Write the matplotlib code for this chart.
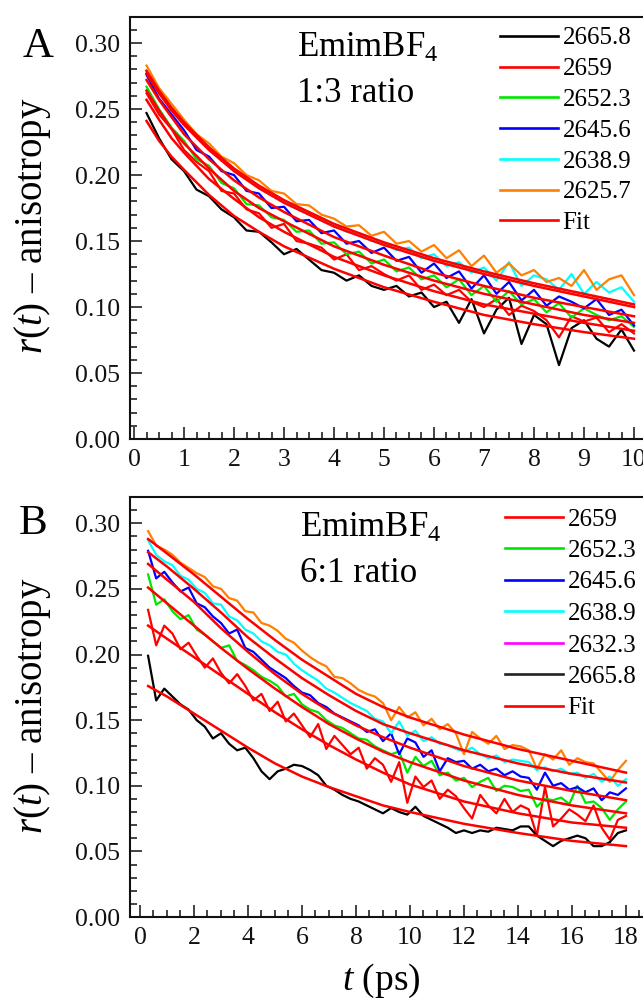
import numpy as np
import matplotlib
matplotlib.use('Agg')
import matplotlib.pyplot as plt
from matplotlib.lines import Line2D
from matplotlib.ticker import MultipleLocator

plt.rcParams['font.family'] = ['Liberation Serif', 'DejaVu Serif']
plt.rcParams['mathtext.fontset'] = 'custom'
plt.rcParams['mathtext.rm'] = 'Liberation Serif'
plt.rcParams['mathtext.it'] = 'Liberation Serif:italic'

# ---------------- panel A (1:3 ratio) ----------------
t_a = np.round(np.arange(1, 41) * 0.25, 2)
a_2665_8 = [0.247, 0.228, 0.212, 0.203, 0.189, 0.184, 0.174, 0.168, 0.158, 0.157,
            0.149, 0.140, 0.144, 0.136, 0.128, 0.126, 0.120, 0.124, 0.116, 0.113,
            0.116, 0.108, 0.111, 0.100, 0.104, 0.088, 0.106, 0.080, 0.098, 0.107,
            0.072, 0.094, 0.087, 0.056, 0.084, 0.090, 0.076, 0.070, 0.083, 0.067]
a_2659 = [0.262, 0.246, 0.235, 0.219, 0.210, 0.203, 0.188, 0.186, 0.174, 0.171,
          0.160, 0.163, 0.150, 0.148, 0.145, 0.136, 0.140, 0.128, 0.131, 0.125,
          0.120, 0.124, 0.113, 0.117, 0.109, 0.113, 0.104, 0.100, 0.106, 0.094,
          0.101, 0.097, 0.090, 0.077, 0.093, 0.089, 0.092, 0.081, 0.087, 0.080]
a_2652_3 = [0.267, 0.250, 0.236, 0.226, 0.212, 0.207, 0.194, 0.190, 0.178, 0.177,
            0.168, 0.166, 0.157, 0.158, 0.148, 0.149, 0.140, 0.142, 0.133, 0.136,
            0.127, 0.130, 0.121, 0.124, 0.115, 0.121, 0.109, 0.116, 0.104, 0.112,
            0.102, 0.106, 0.096, 0.103, 0.092, 0.099, 0.094, 0.090, 0.093, 0.085]
a_2645_6 = [0.276, 0.258, 0.246, 0.234, 0.219, 0.214, 0.203, 0.200, 0.188, 0.186,
            0.175, 0.176, 0.165, 0.166, 0.156, 0.158, 0.148, 0.150, 0.141, 0.145,
            0.135, 0.138, 0.126, 0.133, 0.122, 0.127, 0.114, 0.124, 0.110, 0.119,
            0.105, 0.113, 0.101, 0.108, 0.104, 0.099, 0.106, 0.094, 0.098, 0.086]
a_2638_9 = [0.279, 0.264, 0.251, 0.240, 0.229, 0.221, 0.212, 0.204, 0.198, 0.190,
            0.186, 0.180, 0.175, 0.171, 0.166, 0.163, 0.157, 0.156, 0.150, 0.149,
            0.143, 0.145, 0.137, 0.140, 0.131, 0.134, 0.126, 0.130, 0.120, 0.134,
            0.116, 0.124, 0.121, 0.113, 0.125, 0.110, 0.119, 0.111, 0.115, 0.104]
a_2625_7 = [0.283, 0.266, 0.254, 0.242, 0.231, 0.224, 0.214, 0.209, 0.200, 0.196,
            0.188, 0.186, 0.178, 0.177, 0.170, 0.167, 0.161, 0.162, 0.154, 0.157,
            0.148, 0.150, 0.142, 0.147, 0.137, 0.143, 0.131, 0.139, 0.126, 0.133,
            0.124, 0.128, 0.119, 0.122, 0.116, 0.128, 0.113, 0.121, 0.124, 0.109]

tfit_a = [0.25, 0.5, 0.75, 1, 1.5, 2, 2.5, 3, 4, 5, 6, 7, 8, 9, 10]
fits_a = [
    [0.279, 0.264, 0.251, 0.240, 0.221, 0.205, 0.192, 0.181, 0.163, 0.149, 0.137, 0.127, 0.118, 0.110, 0.102],
    [0.277, 0.262, 0.249, 0.238, 0.219, 0.203, 0.190, 0.179, 0.161, 0.147, 0.135, 0.125, 0.116, 0.108, 0.100],
    [0.272, 0.257, 0.244, 0.231, 0.212, 0.196, 0.183, 0.172, 0.153, 0.139, 0.126, 0.116, 0.107, 0.100, 0.093],
    [0.264, 0.249, 0.235, 0.224, 0.205, 0.188, 0.175, 0.165, 0.146, 0.132, 0.120, 0.110, 0.102, 0.094, 0.088],
    [0.257, 0.242, 0.228, 0.217, 0.197, 0.182, 0.168, 0.157, 0.138, 0.124, 0.112, 0.102, 0.095, 0.088, 0.082],
    [0.241, 0.226, 0.214, 0.204, 0.185, 0.169, 0.157, 0.146, 0.129, 0.115, 0.104, 0.094, 0.087, 0.081, 0.076],
]

# ---------------- panel B (6:1 ratio) ----------------
t_b = np.round(np.arange(1, 61) * 0.3, 2)
b_2659 = [0.234, 0.207, 0.222, 0.216, 0.204, 0.209, 0.199, 0.190, 0.197, 0.186,
          0.178, 0.185, 0.176, 0.165, 0.170, 0.157, 0.164, 0.149, 0.155, 0.146,
          0.137, 0.147, 0.128, 0.138, 0.131, 0.124, 0.129, 0.113, 0.121, 0.116,
          0.103, 0.118, 0.087, 0.107, 0.099, 0.104, 0.090, 0.097, 0.092, 0.083,
          0.075, 0.093, 0.085, 0.079, 0.090, 0.080, 0.085, 0.082, 0.062, 0.099,
          0.069, 0.075, 0.082, 0.078, 0.073, 0.085, 0.068, 0.059, 0.074, 0.077]
b_2652_3 = [0.261, 0.238, 0.242, 0.233, 0.227, 0.230, 0.219, 0.215, 0.210, 0.205,
            0.207, 0.195, 0.192, 0.188, 0.183, 0.180, 0.176, 0.168, 0.170, 0.162,
            0.158, 0.156, 0.150, 0.146, 0.144, 0.140, 0.136, 0.135, 0.130, 0.127,
            0.124, 0.126, 0.110, 0.122, 0.115, 0.119, 0.108, 0.110, 0.104, 0.106,
            0.099, 0.103, 0.106, 0.096, 0.100, 0.099, 0.096, 0.097, 0.084, 0.090,
            0.089, 0.091, 0.086, 0.100, 0.087, 0.088, 0.083, 0.074, 0.082, 0.088]
b_2645_6 = [0.279, 0.258, 0.263, 0.255, 0.248, 0.251, 0.239, 0.236, 0.229, 0.224,
            0.216, 0.219, 0.205, 0.202, 0.196, 0.190, 0.186, 0.182, 0.176, 0.171,
            0.169, 0.163, 0.160, 0.155, 0.152, 0.149, 0.146, 0.141, 0.143, 0.134,
            0.140, 0.124, 0.136, 0.133, 0.122, 0.127, 0.111, 0.121, 0.118, 0.119,
            0.113, 0.116, 0.111, 0.113, 0.108, 0.111, 0.107, 0.106, 0.097, 0.110,
            0.100, 0.102, 0.097, 0.099, 0.095, 0.098, 0.089, 0.095, 0.093, 0.098]
b_2638_9 = [0.287, 0.276, 0.271, 0.268, 0.260, 0.257, 0.250, 0.247, 0.239, 0.238,
            0.229, 0.226, 0.219, 0.216, 0.210, 0.207, 0.202, 0.200, 0.193, 0.188,
            0.184, 0.180, 0.174, 0.171, 0.167, 0.163, 0.160, 0.157, 0.151, 0.149,
            0.140, 0.149, 0.138, 0.142, 0.134, 0.137, 0.132, 0.131, 0.128, 0.126,
            0.129, 0.124, 0.121, 0.123, 0.118, 0.120, 0.119, 0.118, 0.112, 0.114,
            0.111, 0.113, 0.109, 0.110, 0.106, 0.109, 0.103, 0.107, 0.100, 0.105]
b_2632_3 = [0.294, 0.283, 0.280, 0.276, 0.270, 0.266, 0.262, 0.259, 0.252, 0.250,
            0.243, 0.241, 0.233, 0.232, 0.224, 0.222, 0.218, 0.212, 0.209, 0.203,
            0.198, 0.194, 0.191, 0.183, 0.182, 0.178, 0.173, 0.170, 0.168, 0.163,
            0.150, 0.160, 0.152, 0.156, 0.146, 0.151, 0.143, 0.147, 0.140, 0.124,
            0.141, 0.136, 0.132, 0.138, 0.128, 0.131, 0.130, 0.127, 0.113, 0.124,
            0.120, 0.127, 0.116, 0.121, 0.118, 0.117, 0.110, 0.103, 0.112, 0.119]
b_2665_8 = [0.199, 0.165, 0.174, 0.168, 0.162, 0.158, 0.150, 0.145, 0.136, 0.140,
            0.132, 0.127, 0.129, 0.121, 0.111, 0.105, 0.111, 0.113, 0.116, 0.115,
            0.112, 0.108, 0.100, 0.097, 0.093, 0.090, 0.088, 0.085, 0.082, 0.079,
            0.083, 0.080, 0.078, 0.084, 0.077, 0.074, 0.071, 0.068, 0.064, 0.066,
            0.064, 0.066, 0.065, 0.068, 0.067, 0.066, 0.069, 0.069, 0.062, 0.058,
            0.054, 0.058, 0.060, 0.062, 0.060, 0.054, 0.054, 0.057, 0.064, 0.066]

tfit_b = [0.3, 1, 2, 3, 4, 5, 6, 7, 8, 9, 10, 12, 14, 16, 18]
fits_b = [
    [0.288, 0.277, 0.261, 0.244, 0.227, 0.211, 0.196, 0.183, 0.170, 0.160, 0.152, 0.139, 0.128, 0.119, 0.110],
    [0.278, 0.267, 0.250, 0.232, 0.213, 0.197, 0.182, 0.169, 0.157, 0.147, 0.140, 0.127, 0.117, 0.109, 0.1025],
    [0.269, 0.257, 0.240, 0.220, 0.202, 0.185, 0.170, 0.157, 0.146, 0.137, 0.129, 0.115, 0.104, 0.096, 0.089],
    [0.251, 0.239, 0.222, 0.205, 0.189, 0.174, 0.160, 0.147, 0.136, 0.126, 0.118, 0.104, 0.093, 0.085, 0.079],
    [0.222, 0.212, 0.198, 0.184, 0.170, 0.156, 0.143, 0.131, 0.120, 0.110, 0.101, 0.088, 0.079, 0.072, 0.068],
    [0.176, 0.168, 0.155, 0.142, 0.129, 0.117, 0.107, 0.099, 0.092, 0.085, 0.080, 0.071, 0.064, 0.058, 0.054],
]

BLACK, RED, GREEN, BLUE = '#000000', '#ff0000', '#00e600', '#0000ff'
CYAN, ORANGE, MAGENTA = '#00ffff', '#ff8000', '#ff00ff'
LW = 1.6

fig = plt.figure(figsize=(6.43, 10.01), dpi=100)
W, H = 643.0, 1001.0
axA = fig.add_axes([130 / W, 1 - 439 / H, 520 / W, 422.3 / H])
axB = fig.add_axes([130 / W, 1 - 917 / H, 520 / W, 420 / H])


def style_axes(ax, xlim, xmajor, xminor):
    ax.set_xlim(*xlim)
    ax.set_ylim(0, 0.32)
    ax.xaxis.set_major_locator(MultipleLocator(xmajor))
    ax.xaxis.set_minor_locator(MultipleLocator(xminor))
    ax.yaxis.set_major_locator(MultipleLocator(0.05))
    ax.yaxis.set_minor_locator(MultipleLocator(0.01))
    ax.yaxis.set_major_formatter(plt.FormatStrFormatter('%.2f'))
    ax.tick_params(which='both', direction='in', top=False, right=False,
                   width=1.1, labelsize=18.5, colors='#111111')
    ax.tick_params(which='major', length=8.5, pad=7)
    ax.tick_params(which='minor', length=5)
    for sp in ax.spines.values():
        sp.set_linewidth(1.5)
        sp.set_color('#111111')


# panel A
series_a = [(a_2665_8, BLACK, '2665.8'), (a_2659, RED, '2659'), (a_2652_3, GREEN, '2652.3'),
            (a_2645_6, BLUE, '2645.6'), (a_2638_9, CYAN, '2638.9'), (a_2625_7, ORANGE, '2625.7')]
for vals, col, lab in series_a:
    axA.plot(t_a, vals, color=col, lw=LW)
for f in fits_a:
    axA.plot(tfit_a, f, color=RED, lw=LW + 0.2)
style_axes(axA, (-0.08, 10.32), 1, 0.25)
handles_a = [Line2D([], [], color=c, lw=LW + 0.3) for _, c, _ in series_a] + [Line2D([], [], color=RED, lw=LW + 0.3)]
labels_a = [l for _, _, l in series_a] + ['Fit']
axA.legend(handles_a, labels_a, loc='upper left', bbox_to_anchor=(500 / W, 1 - 27 / H),
           bbox_transform=fig.transFigure, frameon=False, fontsize=18, handlelength=2.3,
           handletextpad=0.2, labelspacing=0.33, borderpad=0, borderaxespad=0)

# panel B
series_b = [(b_2659, RED), (b_2652_3, GREEN), (b_2645_6, BLUE), (b_2638_9, CYAN),
            (b_2632_3, ORANGE), (b_2665_8, BLACK)]
for vals, col in series_b:
    axB.plot(t_b, vals, color=col, lw=LW)
for f in fits_b:
    axB.plot(tfit_b, f, color=RED, lw=LW + 0.2)
style_axes(axB, (-0.37, 18.89), 2, 0.5)
labels_b = ['2659', '2652.3', '2645.6', '2638.9', '2632.3', '2665.8', 'Fit']
colors_b = [RED, GREEN, BLUE, CYAN, MAGENTA, '#222222', RED]
handles_b = [Line2D([], [], color=c, lw=LW + 0.3) for c in colors_b]
axB.legend(handles_b, labels_b, loc='upper left', bbox_to_anchor=(505 / W, 1 - 508 / H),
           bbox_transform=fig.transFigure, frameon=False, fontsize=18, handlelength=2.3,
           handletextpad=0.2, labelspacing=0.36, borderpad=0, borderaxespad=0)

# text
fig.text(297 / W, 1 - 57 / H, r'EmimBF$_4$', fontsize=25, ha='left', va='baseline')
fig.text(297 / W, 1 - 102 / H, '1:3 ratio', fontsize=25, ha='left', va='baseline')
fig.text(300 / W, 1 - 537 / H, r'EmimBF$_4$', fontsize=25, ha='left', va='baseline')
fig.text(300 / W, 1 - 582 / H, '6:1 ratio', fontsize=25, ha='left', va='baseline')
fig.text(38 / W, 1 - 47 / H, 'A', fontsize=31, ha='center', va='center')
fig.text(33 / W, 1 - 524 / H, 'B', fontsize=31, ha='center', va='center')
fig.text(33 / W, 1 - 226 / H, r'$r(t)$ – anisotropy', fontsize=28, rotation=90,
         ha='center', va='center')
fig.text(33 / W, 1 - 706 / H, r'$r(t)$ – anisotropy', fontsize=28, rotation=90,
         ha='center', va='center')
fig.text(381 / W, 1 - 981 / H, r'$t$ (ps)', fontsize=27, ha='center', va='center')

fig.savefig('out.png', dpi=100)
